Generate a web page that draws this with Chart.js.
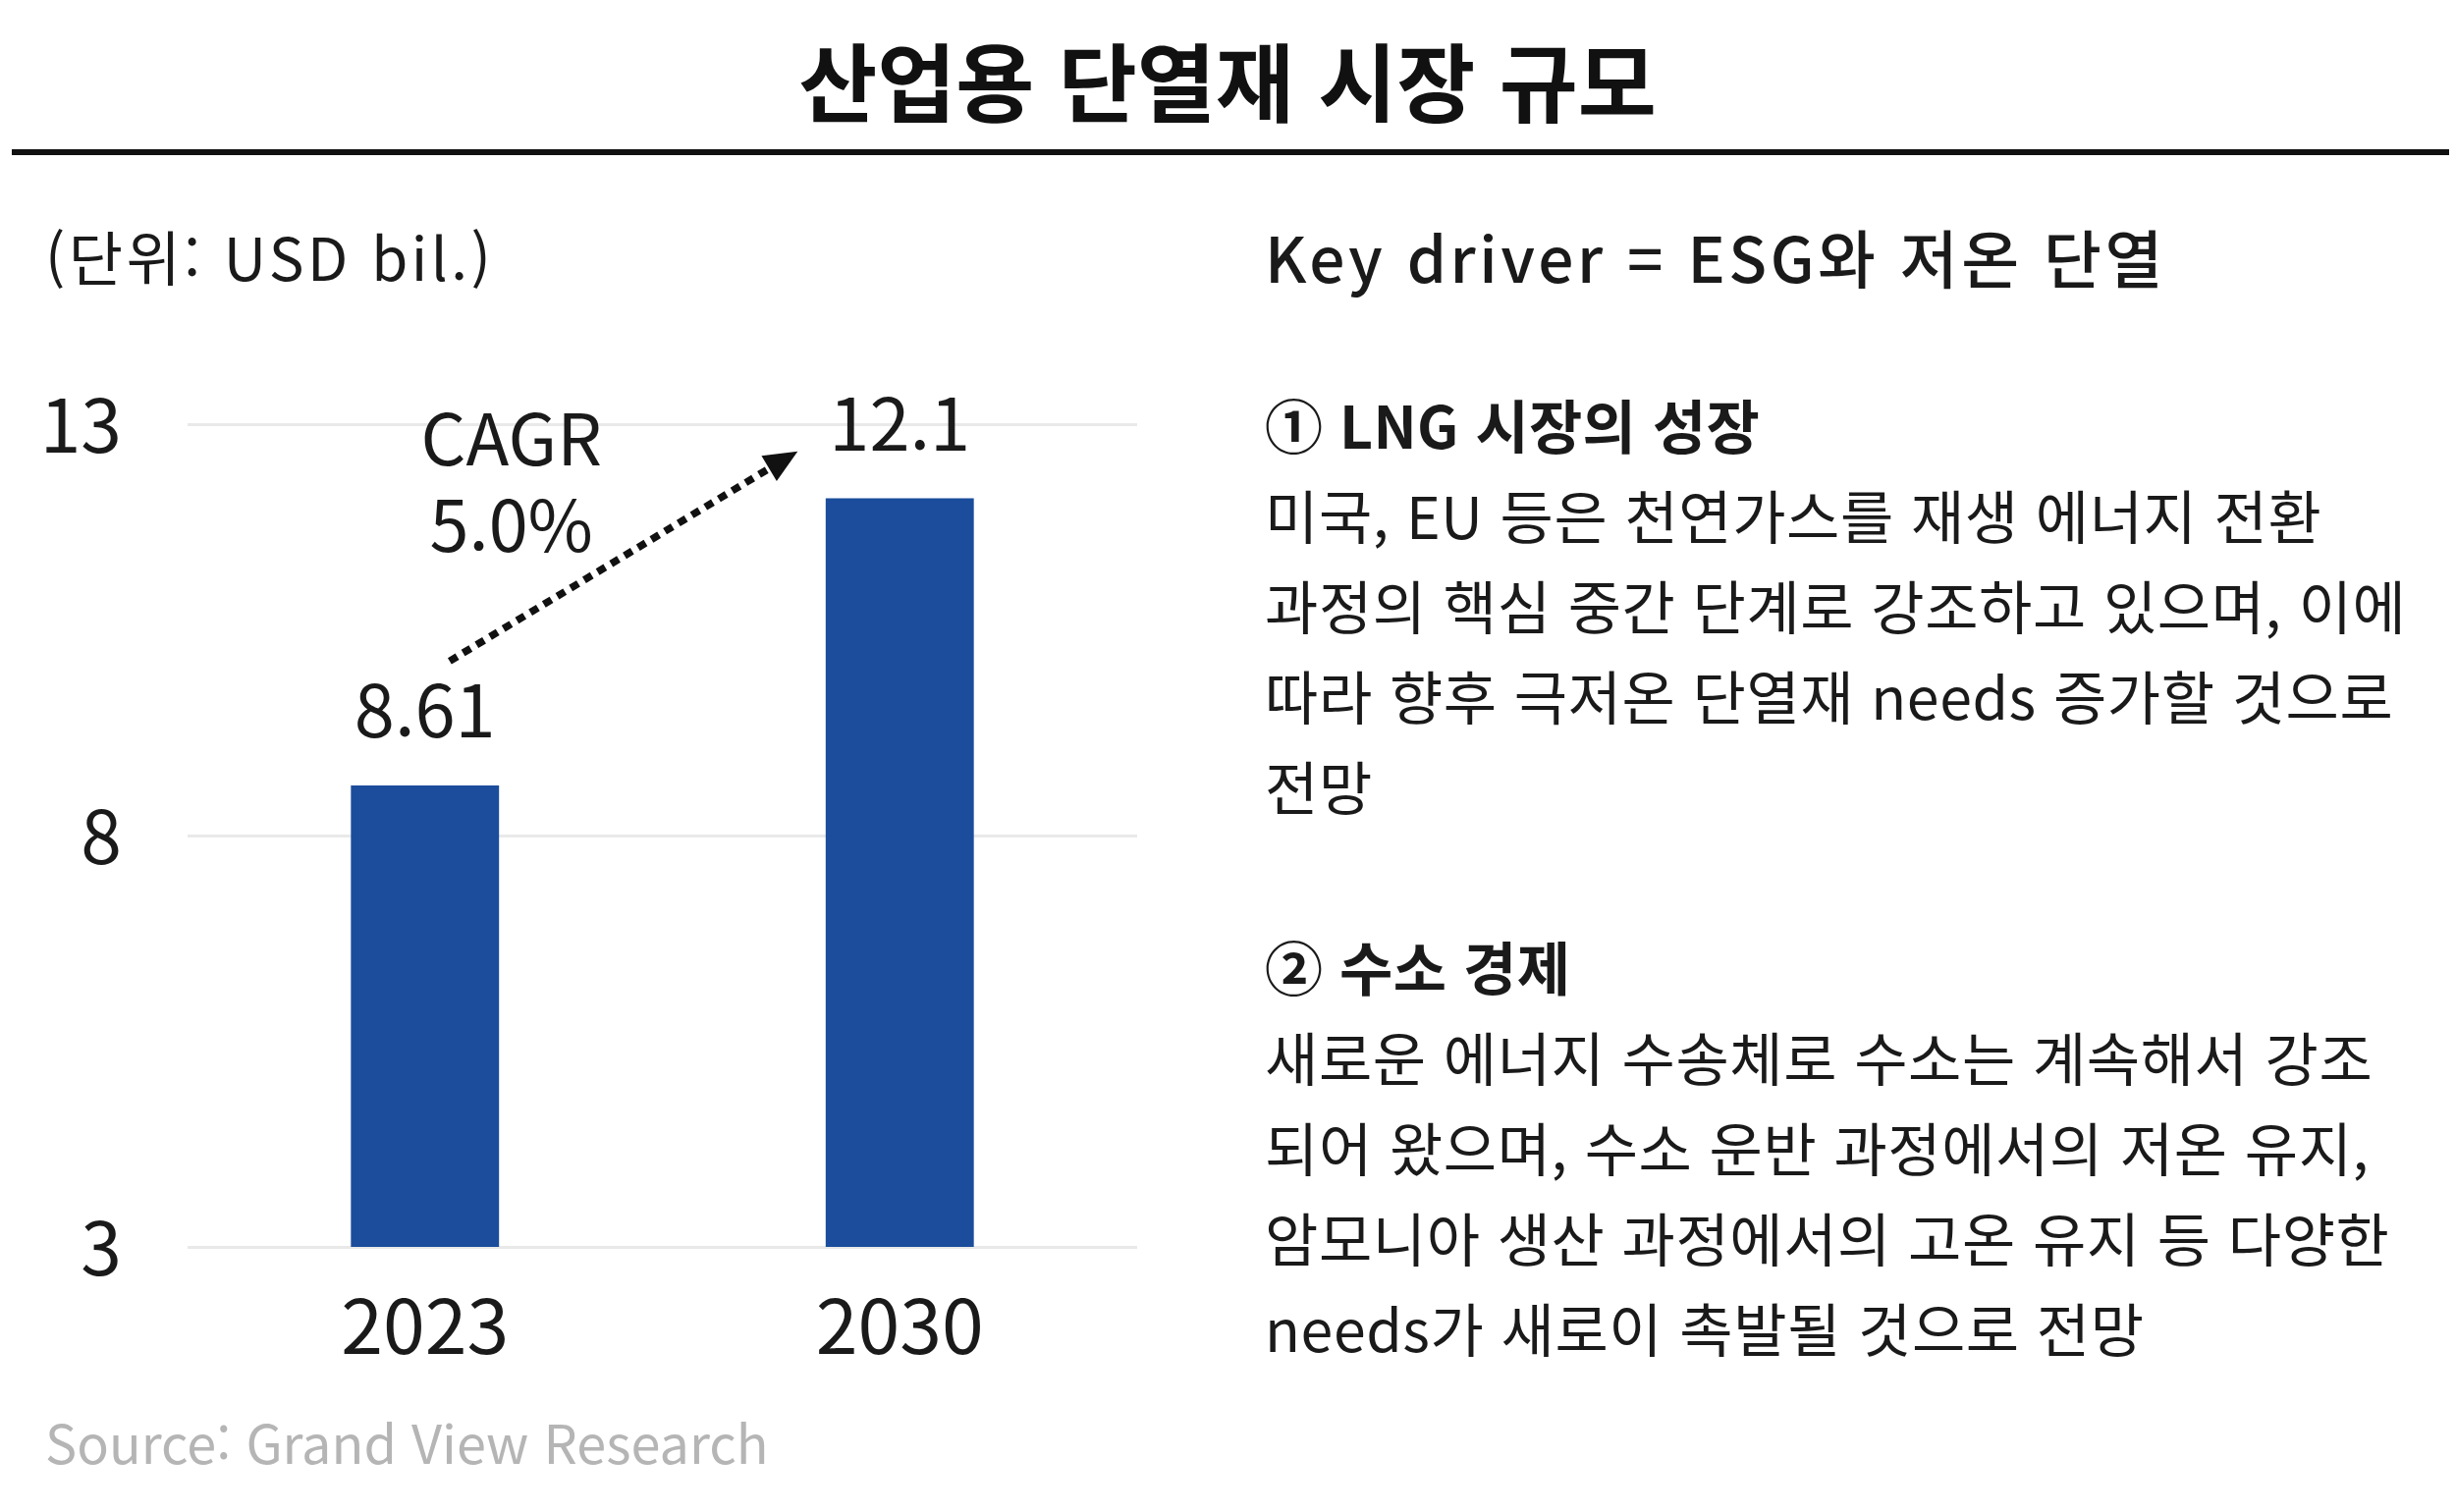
<!DOCTYPE html>
<html lang="ko">
<head>
<meta charset="utf-8">
<script src="https://cdn.jsdelivr.net/npm/chart.js@4.4.1/dist/chart.umd.min.js"></script>
<style>
  html, body { margin:0; padding:0; background:#fff; }
  body { width:2500px; height:1540px; position:relative; overflow:hidden;
         font-family:"Noto Sans CJK KR","Noto Sans",sans-serif; color:#1a1a1a; }
  .abs { position:absolute; white-space:nowrap; }
  #title { left:0; width:2500px; text-align:center; top:30px; line-height:100px;
           font-size:87px; font-weight:700; color:#111; }
  #rule { left:12px; width:2482px; top:152px; height:6px; background:#111; }
  #unit { left:46px; top:224px; line-height:72px; font-size:60px; letter-spacing:3.5px; }
  #kd { left:1288px; top:224px; line-height:72px; font-size:64px; font-weight:500; letter-spacing:3.5px; }
  #panel { left:1288px; top:386px; font-size:59px; line-height:92px; letter-spacing:0.6px; }
  #panel .h { font-weight:700; letter-spacing:0.3px; }
  #source { left:46px; top:1432px; line-height:72px; font-size:54px; color:#b5b5b5; }
  #chartWrap { position:absolute; left:0; top:160px; width:1200px; height:1260px; }
</style>
</head>
<body>
<div id="title" class="abs">산업용 단열재 시장 규모</div>
<div id="rule" class="abs"></div>
<div id="unit" class="abs">(단위: USD bil.)</div>
<div id="kd" class="abs">Key driver = ESG와 저온 단열</div>
<div id="panel" class="abs">
  <div class="h">① LNG 시장의 성장</div>
  <div>미국, EU 등은 천연가스를 재생 에너지 전환</div>
  <div>과정의 핵심 중간 단계로 강조하고 있으며, 이에</div>
  <div>따라 향후 극저온 단열재 needs 증가할 것으로</div>
  <div>전망</div>
  <div>&nbsp;</div>
  <div class="h">② 수소 경제</div>
  <div>새로운 에너지 수송체로 수소는 계속해서 강조</div>
  <div>되어 왔으며, 수소 운반 과정에서의 저온 유지,</div>
  <div>암모니아 생산 과정에서의 고온 유지 등 다양한</div>
  <div>needs가 새로이 촉발될 것으로 전망</div>
</div>
<div id="source" class="abs">Source: Grand View Research</div>
<div id="chartWrap"><canvas id="c" width="1200" height="1260"></canvas></div>
<script>
// ---- data ----
const categories = ["2023", "2030"];
const marketSize = [8.61, 12.1];
const valueLabels = ["8.61", "12.1"];
const yTicks = [3, 8, 13];
const cagrLines = ["CAGR", "5.0%"];

const FONT = '"Noto Sans CJK KR","Noto Sans",sans-serif';
const TEXT = '#1a1a1a';

const annotate = {
  id: 'annotate',
  afterDatasetsDraw(chart) {
    const ctx = chart.ctx;
    const xs = chart.scales.x, ys = chart.scales.y;
    const meta = chart.getDatasetMeta(0);
    ctx.save();
    ctx.fillStyle = TEXT;
    ctx.font = '400 74px ' + FONT;
    ctx.textAlign = 'center';
    ctx.textBaseline = 'middle';
    meta.data.forEach((bar, i) => {
      ctx.fillText(valueLabels[i], bar.x, bar.y - 77);
    });
    // CAGR arrow
    const x0 = xs.getPixelForValue(0), x1 = xs.getPixelForValue(1);
    const cw = x1 - x0;
    const sx = x0 + 0.052 * cw, sy = ys.getPixelForValue(10.12);
    const tx = x1 - 0.215 * cw, ty = ys.getPixelForValue(12.67);
    const dx = tx - sx, dy = ty - sy, len = Math.hypot(dx, dy);
    const ux = dx / len, uy = dy / len;
    const headL = 34, headW = 15;
    ctx.strokeStyle = '#111';
    ctx.lineWidth = 7.5;
    ctx.setLineDash([9, 7]);
    ctx.beginPath();
    ctx.moveTo(sx, sy);
    ctx.lineTo(tx - ux * (headL - 4), ty - uy * (headL - 4));
    ctx.stroke();
    ctx.setLineDash([]);
    ctx.fillStyle = '#111';
    ctx.beginPath();
    ctx.moveTo(tx, ty);
    ctx.lineTo(tx - ux * headL - uy * headW, ty - uy * headL + ux * headW);
    ctx.lineTo(tx - ux * headL + uy * headW, ty - uy * headL - ux * headW);
    ctx.closePath();
    ctx.fill();
    // CAGR text
    ctx.fillStyle = TEXT;
    ctx.font = '400 72px ' + FONT;
    const cx = x0 + 0.182 * cw;
    ctx.fillText(cagrLines[0], cx, ys.getPixelForValue(12.82));
    ctx.fillText(cagrLines[1], cx, ys.getPixelForValue(11.77));
    ctx.restore();
  }
};

new Chart(document.getElementById('c'), {
  type: 'bar',
  data: {
    labels: categories,
    datasets: [{
      data: marketSize,
      backgroundColor: '#1b4d9c',
      borderWidth: 0,
      categoryPercentage: 1.0,
      barPercentage: 0.312
    }]
  },
  options: {
    responsive: false,
    devicePixelRatio: 1,
    animation: false,
    layout: { padding: { top: 272, right: 42, left: 0, bottom: 0 } },
    plugins: { legend: { display: false }, tooltip: { enabled: false } },
    scales: {
      x: {
        grid: { display: false, drawTicks: false },
        border: { display: false },
        ticks: { color: TEXT, font: { family: FONT, size: 77 }, padding: 34 },
        afterFit(s) { s.height = 150; }
      },
      y: {
        min: 3, max: 13,
        afterBuildTicks(s) { s.ticks = yTicks.map(v => ({ value: v })); },
        grid: { color: '#e9e9e9', lineWidth: 3, drawTicks: false },
        border: { display: false },
        ticks: { color: TEXT, font: { family: FONT, size: 75 }, padding: 67 },
        afterFit(s) { s.width = 191; }
      }
    }
  },
  plugins: [annotate]
});
</script>
</body>
</html>
